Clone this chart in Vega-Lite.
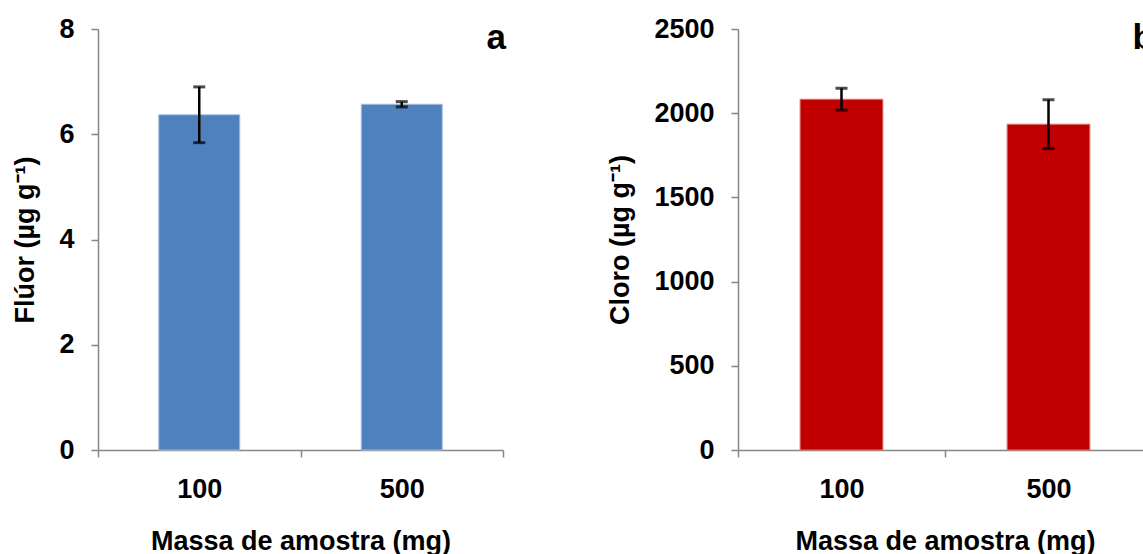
{
  "$schema": "https://vega.github.io/schema/vega-lite/v6.json",
  "padding": {"left": 11, "top": 15, "right": 0, "bottom": 0},
  "background": "white",
  "datasets": {
    "fluor": [
      {"massa": "100", "valor": 6.37, "erro": 0.53},
      {"massa": "500", "valor": 6.57, "erro": 0.05}
    ],
    "cloro": [
      {"massa": "100", "valor": 2083, "erro": 65},
      {"massa": "500", "valor": 1935, "erro": 145}
    ]
  },
  "config": {
    "font": "Liberation Sans",
    "view": {"stroke": null},
    "axis": {
      "labelFont": "Liberation Sans",
      "labelFontWeight": "bold",
      "labelFontSize": 27,
      "labelColor": "black",
      "titleFont": "Liberation Sans",
      "titleFontWeight": "bold",
      "titleFontSize": 27,
      "titleColor": "black",
      "domainColor": "#868686",
      "domainWidth": 1.5,
      "tickColor": "#868686",
      "tickWidth": 1.5,
      "tickSize": 7,
      "grid": false
    },
    "title": {"font": "Liberation Sans", "fontWeight": "bold", "fontSize": 35, "color": "black"}
  },
  "spacing": 100,
  "hconcat": [
    {
      "width": 405,
      "height": 421,
      "data": {"name": "fluor"},
      "title": {"text": "a", "anchor": "end", "frame": "group", "offset": -41, "dx": 3},
      "encoding": {
        "x": {
          "field": "massa",
          "type": "nominal",
          "scale": {"paddingInner": 0, "paddingOuter": 0},
          "axis": {"title": "Massa de amostra (mg)", "labelAngle": 0, "tickBand": "extent", "labelPadding": 19, "titlePadding": 26}
        }
      },
      "layer": [
        {
          "mark": {"type": "bar", "width": {"band": 0.4}, "color": "#4F81BD", "stroke": "#a7bfde", "strokeWidth": 1},
          "encoding": {
            "y": {
              "field": "valor",
              "type": "quantitative",
              "title": "Flúor (µg g⁻¹)",
              "scale": {"domain": [0, 8], "nice": false},
              "axis": {"values": [0, 2, 4, 6, 8], "format": "d", "labelPadding": 17, "titlePadding": 19}
            }
          }
        },
        {
          "mark": {"type": "errorbar", "ticks": {"size": 12, "thickness": 3, "color": "black"}, "rule": {"strokeWidth": 2.5, "color": "black"}, "color": "black"},
          "encoding": {
            "y": {"field": "valor", "type": "quantitative", "title": "Flúor (µg g⁻¹)"},
            "yError": {"field": "erro"}
          }
        }
      ]
    },
    {
      "width": 414,
      "height": 421,
      "data": {"name": "cloro"},
      "title": {"text": "b", "anchor": "end", "frame": "group", "offset": -41, "dx": 2},
      "encoding": {
        "x": {
          "field": "massa",
          "type": "nominal",
          "scale": {"paddingInner": 0, "paddingOuter": 0},
          "axis": {"title": "Massa de amostra (mg)", "labelAngle": 0, "tickBand": "extent", "labelPadding": 19, "titlePadding": 26}
        }
      },
      "layer": [
        {
          "mark": {"type": "bar", "width": {"band": 0.4}, "color": "#C00000", "stroke": "#e07a7a", "strokeWidth": 1},
          "encoding": {
            "y": {
              "field": "valor",
              "type": "quantitative",
              "title": "Cloro (µg g⁻¹)",
              "scale": {"domain": [0, 2500], "nice": false},
              "axis": {"values": [0, 500, 1000, 1500, 2000, 2500], "format": "d", "labelPadding": 17, "titlePadding": 19}
            }
          }
        },
        {
          "mark": {"type": "errorbar", "ticks": {"size": 12, "thickness": 3, "color": "black"}, "rule": {"strokeWidth": 2.5, "color": "black"}, "color": "black"},
          "encoding": {
            "y": {"field": "valor", "type": "quantitative", "title": "Cloro (µg g⁻¹)"},
            "yError": {"field": "erro"}
          }
        }
      ]
    }
  ]
}
